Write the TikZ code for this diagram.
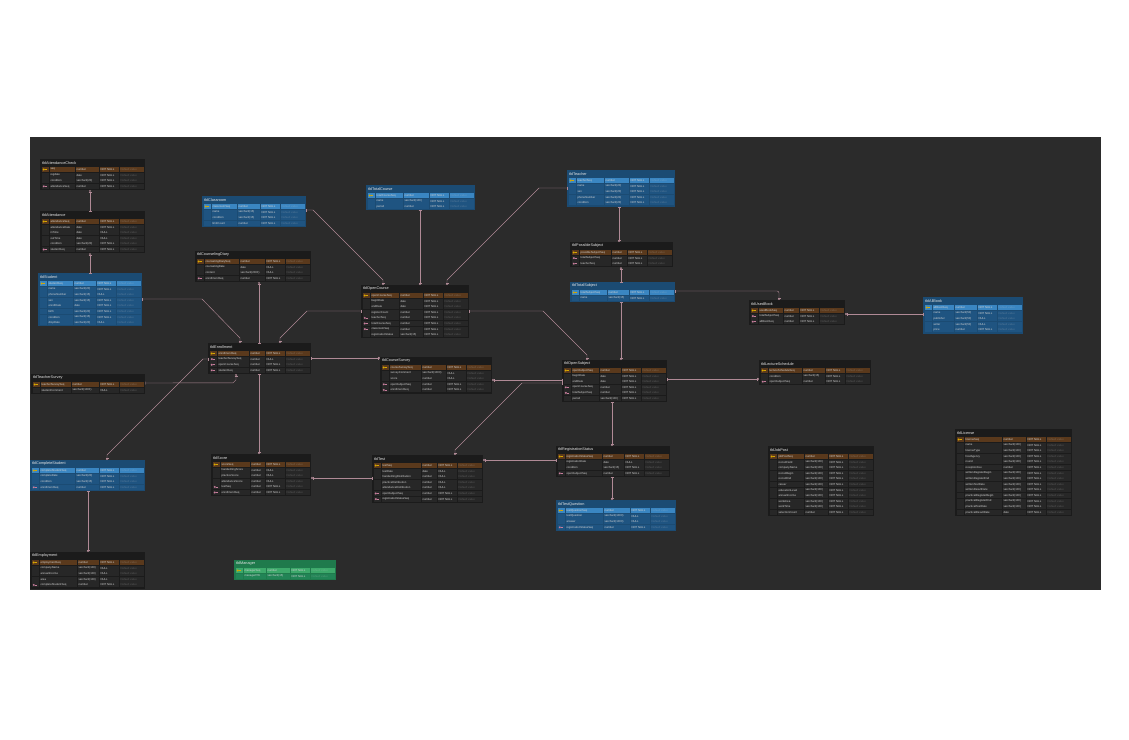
\documentclass[tikz,border=0pt]{standalone}
\usepackage{fontspec}
\setmainfont{Liberation Sans}
\usetikzlibrary{calc,arrows.meta}

\definecolor{canvasc}{HTML}{2B2B2B}
\definecolor{relc}{HTML}{B08A96}
\definecolor{titlec}{HTML}{E6E6E6}
\definecolor{cellc}{HTML}{D2D2D2}
\definecolor{bodydark}{HTML}{1B1B1B}
\definecolor{darkpk}{HTML}{5A391C}
\definecolor{darkfk}{HTML}{272727}
\definecolor{darkno}{HTML}{272727}
\definecolor{bodyblue}{HTML}{1B4B73}
\definecolor{bluepk}{HTML}{3A86C2}
\definecolor{bluefk}{HTML}{1F5481}
\definecolor{blueno}{HTML}{1F5481}
\definecolor{bodygreen}{HTML}{1F7A4C}
\definecolor{greenpk}{HTML}{3DA96B}
\definecolor{greenfk}{HTML}{228456}
\definecolor{greenno}{HTML}{228456}
\definecolor{darkkeypk}{HTML}{D9A800}
\definecolor{darkkeyfk}{HTML}{C77D9C}
\colorlet{darkkeyno}{darkno}
\colorlet{bluekeypk}{darkkeypk}
\colorlet{bluekeyfk}{darkkeyfk}
\colorlet{bluekeyno}{blueno}
\colorlet{greenkeypk}{darkkeypk}
\colorlet{greenkeyfk}{darkkeyfk}
\colorlet{greenkeyno}{greenno}

\tikzset{
  tblbody/.style={inner sep=0pt, outer sep=0pt, draw=none},
  tbltitle/.style={inner sep=0pt, text=titlec, font=\fontsize{3.8}{4.4}\selectfont},
  celltext/.style={inner sep=0pt, text=cellc, font=\fontsize{2.8}{3.2}\selectfont},
  rel/.style={draw=relc, line width=0.45pt,
    {Circle[open,length=2pt,width=2pt]Bar[width=3pt]}-{Bar[width=3pt]}},
}

% #1 node, #2 title, #3 x, #4 y, #5 name width, #6 type width, #7 palette, #8 rows
\newcommand*{\DrawTable}[8]{%
  \foreach \Dummy [count=\c] in {#8}{\xdef\RowCount{\c}}
  \pgfmathsetmacro{\TblW}{57+#5+#6}
  \pgfmathsetmacro{\TblH}{8.5+5.6*\RowCount}
  \node[tblbody, fill=body#7, minimum width=\TblW pt, minimum height=\TblH pt,
        anchor=north west] (#1) at (#3,#4) {};
  \node[tbltitle, anchor=west] (#1-title) at (#3+2,#4+4) {#2};
  \foreach \Kind/\Col/\Typ/\Nul [count=\i] in {#8}{
    \pgfmathsetmacro{\Ry}{#4+8+(\i-1)*5.6}
    \pgfmathsetmacro{\Xa}{#3+9.5}
    \pgfmathsetmacro{\Xb}{\Xa+#5}
    \pgfmathsetmacro{\Xc}{\Xb+1+#6}
    \pgfmathsetmacro{\Xd}{\Xc+20}
    \pgfmathsetmacro{\Xe}{\Xd+25}
    \fill[fill=#7\Kind] (#3+1.5,\Ry) rectangle (#3+8.5,\Ry+5);
    \fill[fill=#7\Kind] (\Xa,\Ry) rectangle (\Xb,\Ry+5);
    \fill[fill=#7\Kind] (\Xb+1,\Ry) rectangle (\Xc,\Ry+5);
    \fill[fill=#7\Kind] (\Xc+1,\Ry) rectangle (\Xd,\Ry+5);
    \fill[fill=#7\Kind] (\Xd+1,\Ry) rectangle (\Xe,\Ry+5);
    \fill[fill=#7key\Kind] (#3+3.8,\Ry+2.5) circle (1.1);
    \fill[fill=#7key\Kind] (#3+4.5,\Ry+2.1) rectangle (#3+7.3,\Ry+2.9);
    \node[celltext, anchor=west] (#1-\i-col) at (\Xa+0.8,\Ry+2.5) {\Col};
    \node[celltext, anchor=west] (#1-\i-typ) at (\Xb+1.8,\Ry+2.5) {\Typ};
    \node[celltext, anchor=west] (#1-\i-nul) at (\Xc+1.8,\Ry+2.5) {\Nul};
    \node[celltext, text opacity=0.28, anchor=west] (#1-\i-def) at (\Xd+1.8,\Ry+2.5) {Default value};
  }
}

\begin{document}
\begin{tikzpicture}[x=1pt,y=-1pt]
  \useasboundingbox (0,0) rectangle (1129,739);
  \fill[white] (0,0) rectangle (1129,739);
  \fill[canvasc] (30,137) rectangle (1101,590);

  \DrawTable{attcheck}{tblAttendanceCheck}{40}{159}{25}{23}{dark}{
    pk/seq/number/NOT NULL, no/regdate/date/NOT NULL,
    no/condition/varchar2(20)/NOT NULL, fk/attendanceSeq/number/NOT NULL}
  \DrawTable{attendance}{tblAttendance}{40}{211}{25}{23}{dark}{
    pk/attendanceSeq/number/NOT NULL, no/attendanceDate/date/NOT NULL,
    no/inTime/date/NULL, no/outTime/date/NULL,
    no/condition/varchar2(20)/NOT NULL, fk/studentSeq/number/NOT NULL}
  \DrawTable{student}{tblStudent}{38}{273}{25}{22}{blue}{
    pk/studentSeq/number/NOT NULL, no/name/varchar2(20)/NOT NULL,
    no/phoneNumber/varchar2(15)/NULL, no/ssn/varchar2(15)/NOT NULL,
    no/enrollDate/date/NOT NULL, no/birth/varchar2(20)/NOT NULL,
    no/condition/varchar2(15)/NOT NULL, no/dropDate/varchar2(20)/NULL}
  \DrawTable{classroom}{tblClassroom}{202}{196}{25}{22}{blue}{
    pk/classroomSeq/number/NOT NULL, no/name/varchar2(15)/NOT NULL,
    no/condition/varchar2(15)/NOT NULL, no/limitCount/number/NOT NULL}
  \DrawTable{counseling}{tblCounselingDiary}{195}{251}{34}{25}{dark}{
    pk/counselingDiarySeq/number/NOT NULL, no/counselingDate/date/NULL,
    no/content/varchar2(2000)/NULL, fk/enrollmentSeq/number/NOT NULL}
  \DrawTable{totalcourse}{tblTotalCourse}{366}{185}{27}{25}{blue}{
    pk/totalCourseSeq/number/NOT NULL, no/name/varchar2(100)/NOT NULL,
    no/period/number/NOT NULL}
  \DrawTable{opencourse}{tblOpenCourse}{361}{285}{28}{23}{dark}{
    pk/openCourseSeq/number/NOT NULL, no/beginDate/date/NOT NULL,
    no/endDate/date/NOT NULL, no/registerCount/number/NOT NULL,
    fk/teacherSeq/number/NOT NULL, fk/totalCourseSeq/number/NOT NULL,
    fk/classroomSeq/number/NOT NULL, no/registrationStatus/varchar2(15)/NOT NULL}
  \DrawTable{teacher}{tblTeacher}{567}{170}{27}{24}{blue}{
    pk/teacherSeq/number/NOT NULL, no/name/varchar2(20)/NOT NULL,
    no/ssn/varchar2(20)/NOT NULL, no/phoneNumber/varchar2(20)/NOT NULL,
    no/condition/varchar2(20)/NOT NULL}
  \DrawTable{possible}{tblPossibleSubject}{570}{242}{31}{15}{dark}{
    pk/possibleSubjectSeq/number/NOT NULL, fk/totalSubjectSeq/number/NOT NULL,
    fk/teacherSeq/number/NOT NULL}
  \DrawTable{totalsubject}{tblTotalSubject}{570}{282}{27}{21}{blue}{
    pk/totalSubjectSeq/number/NOT NULL, no/name/varchar2(15)/NOT NULL}
  \DrawTable{usedbook}{tblUsedBook}{749}{300}{24}{15}{dark}{
    pk/usedBookSeq/number/NOT NULL, fk/totalSubjectSeq/number/NOT NULL,
    fk/allBookSeq/number/NOT NULL}
  \DrawTable{allbook}{tblAllBook}{923}{297}{21}{22}{blue}{
    pk/allBookSeq/number/NOT NULL, no/name/varchar2(50)/NOT NULL,
    no/publisher/varchar2(50)/NULL, no/writer/varchar2(50)/NULL,
    no/price/number/NOT NULL}
  \DrawTable{lecture}{tblLectureSchedule}{759}{360}{33}{22}{dark}{
    pk/lectureScheduleSeq/number/NOT NULL, no/condition/varchar2(15)/NOT NULL,
    fk/openSubjectSeq/number/NOT NULL}
  \DrawTable{enrollment}{tblEnrollment}{208}{343}{31}{15}{dark}{
    pk/enrollmentSeq/number/NOT NULL, fk/teacherSurveySeq/number/NULL,
    fk/openCourseSeq/number/NOT NULL, fk/studentSeq/number/NOT NULL}
  \DrawTable{tsurvey}{tblTeacherSurvey}{31}{374}{30}{27}{dark}{
    pk/teacherSurveySeq/number/NOT NULL, no/studentComment/varchar2(1000)/NULL}
  \DrawTable{coursesurvey}{tblCourseSurvey}{380}{357}{31}{24}{dark}{
    pk/courseSurveySeq/number/NOT NULL, no/surveyComment/varchar2(1000)/NULL,
    no/score/number/NULL, fk/openSubjectSeq/number/NOT NULL,
    fk/enrollmentSeq/number/NOT NULL}
  \DrawTable{opensubject}{tblOpenSubject}{562}{360}{27}{21}{dark}{
    pk/openSubjectSeq/number/NOT NULL, no/beginDate/date/NOT NULL,
    no/endDate/date/NOT NULL, fk/openCourseSeq/number/NOT NULL,
    fk/totalSubjectSeq/number/NOT NULL, no/period/varchar2(100)/NOT NULL}
  \DrawTable{score}{tblScore}{211}{454}{29}{14}{dark}{
    pk/scoreSeq/number/NOT NULL, no/handwritingScore/number/NULL,
    no/practiceScore/number/NULL, no/attendanceScore/number/NULL,
    fk/testSeq/number/NOT NULL, fk/enrollmentSeq/number/NOT NULL}
  \DrawTable{complete}{tblCompleteStudent}{30}{460}{35}{23}{blue}{
    pk/completeStudentSeq/number/NOT NULL, no/completeDate/varchar2(20)/NOT NULL,
    no/condition/varchar2(15)/NOT NULL, fk/enrollmentSeq/number/NOT NULL}
  \DrawTable{test}{tblTest}{372}{455}{39}{15}{dark}{
    pk/testSeq/number/NOT NULL, no/testDate/date/NULL,
    no/handwritingDistribution/number/NULL, no/practiceDistribution/number/NULL,
    no/attendanceDistribution/number/NULL, fk/openSubjectSeq/number/NOT NULL,
    fk/registrationStatusSeq/number/NOT NULL}
  \DrawTable{regstatus}{tblRegistrationStatus}{556}{446}{36}{21}{dark}{
    pk/registrationStatusSeq/number/NOT NULL, no/registrationDate/date/NULL,
    no/condition/varchar2(15)/NOT NULL, fk/openSubjectSeq/number/NOT NULL}
  \DrawTable{question}{tblTestQuestion}{556}{500}{37}{26}{blue}{
    pk/testQuestionSeq/number/NOT NULL, no/testQuestion/varchar2(1000)/NULL,
    no/answer/varchar2(1000)/NULL, fk/registrationStatusSeq/number/NOT NULL}
  \DrawTable{jobpost}{tblJobPost}{768}{446}{26}{23}{dark}{
    pk/jobPostSeq/number/NOT NULL, no/recruitField/varchar2(100)/NOT NULL,
    no/companyName/varchar2(100)/NOT NULL, no/recruitBegin/varchar2(100)/NOT NULL,
    no/recruitEnd/varchar2(100)/NOT NULL, no/career/varchar2(100)/NOT NULL,
    no/educationLevel/varchar2(100)/NOT NULL, no/annualIncome/varchar2(100)/NOT NULL,
    no/workArea/varchar2(100)/NOT NULL, no/workTime/varchar2(100)/NOT NULL,
    no/selectionCount/number/NOT NULL}
  \DrawTable{license}{tblLicense}{955}{429}{37}{23}{dark}{
    pk/licenseSeq/number/NOT NULL, no/name/varchar2(100)/NOT NULL,
    no/licenseType/varchar2(100)/NOT NULL, no/hostAgency/varchar2(100)/NOT NULL,
    no/round/varchar2(100)/NOT NULL, no/receptionFee/number/NOT NULL,
    no/writtenRegisterBegin/varchar2(100)/NOT NULL, no/writtenRegisterEnd/varchar2(100)/NOT NULL,
    no/writtenTestDate/varchar2(100)/NOT NULL, no/writtenResultDate/varchar2(100)/NOT NULL,
    no/practicalRegisterBegin/varchar2(100)/NOT NULL, no/practicalRegisterEnd/varchar2(100)/NOT NULL,
    no/practicalTestDate/varchar2(100)/NOT NULL, no/practicalResultDate/date/NOT NULL}
  \DrawTable{employment}{tblEmployment}{30}{552}{37}{21}{dark}{
    pk/employmentSeq/number/NOT NULL, no/companyName/varchar2(100)/NULL,
    no/annualIncome/varchar2(100)/NULL, no/area/varchar2(100)/NULL,
    fk/completeStudentSeq/number/NOT NULL}
  \DrawTable{manager}{tblManager}{234}{560}{22}{23}{green}{
    pk/managerSeq/number/NOT NULL, no/managerPW/varchar2(15)/NOT NULL}

  \draw[rel] ($(attcheck.south west)+(50,0)$) -- ($(attendance.north west)+(50,0)$);
  \draw[rel] ($(attendance.south west)+(50,0)$) -- ($(student.north west)+(52,0)$);
  \draw[rel] ($(enrollment.north west)+(32,0)$) -- ++(0,-5) -- ++(-38,-39) -- ($(student.north east)+(0,26)$);
  \draw[rel] ($(counseling.south west)+(64,0)$) -- ($(enrollment.north west)+(51,0)$);
  \draw[rel] ($(enrollment.north west)+(72,0)$) -- ++(0,-5) -- ++(27,-27) -- ($(opencourse.north west)+(0,26)$);
  \draw[rel] ($(opencourse.north west)+(22,0)$) -- ++(0,-5) -- ++(-70,-70) -- ($(classroom.north east)+(0,14)$);
  \draw[rel] ($(opencourse.north west)+(59,0)$) -- ($(totalcourse.south west)+(54,0)$);
  \draw[rel] ($(opencourse.north west)+(86,0)$) -- ++(0,-5) -- ++(92,-92) -- ($(teacher.north west)+(0,18)$);
  \draw[rel] ($(possible.north west)+(49,0)$) -- ($(teacher.south west)+(52,0)$);
  \draw[rel] ($(possible.south west)+(51,0)$) -- ($(totalsubject.north west)+(51,0)$);
  \draw[rel, rounded corners=2pt] ($(usedbook.north west)+(30,0)$) -- ++(0,-9) -- ($(totalsubject.north east)+(0,9)$);
  \draw[rel] ($(usedbook.north east)+(0,14)$) -- ($(allbook.north west)+(0,17)$);
  \draw[rel] ($(opensubject.north west)+(25,0)$) -- ++(0,-5) -- ++(-44,-44) -- ($(opencourse.north east)+(0,26)$);
  \draw[rel] ($(opensubject.north west)+(59,0)$) -- ($(totalsubject.south west)+(51,0)$);
  \draw[rel] ($(lecture.north west)+(0,19)$) -- ($(opensubject.north east)+(0,19)$);
  \draw[rel] ($(coursesurvey.north west)+(0,1)$) -- ($(enrollment.north east)+(0,15)$);
  \draw[rel] ($(coursesurvey.north east)+(0,23)$) -- ($(opensubject.north west)+(0,20)$);
  \draw[rel] ($(test.north west)+(83,0)$) -- ++(0,-5) -- ++(67,-67) -- ($(opensubject.north west)+(0,23)$);
  \draw[rel] ($(complete.north west)+(77,0)$) -- ++(0,-5) -- ++(96,-96) -- ($(enrollment.north west)+(0,16)$);
  \draw[rel] ($(enrollment.south west)+(28,0)$) -- ++(0,6) -- ++(-3,3) -- ($(tsurvey.north east)+(0,9)$);
  \draw[rel] ($(score.north west)+(48,0)$) -- ($(enrollment.south west)+(51,0)$);
  \draw[rel] ($(score.north east)+(0,24)$) -- ($(test.north west)+(0,23)$);
  \draw[rel] ($(test.north east)+(0,5)$) -- ($(regstatus.north west)+(0,14)$);
  \draw[rel] ($(regstatus.north west)+(56,0)$) -- ($(opensubject.south west)+(50,0)$);
  \draw[rel] ($(question.north west)+(56,0)$) -- ($(regstatus.south west)+(56,0)$);
  \draw[rel] ($(employment.north west)+(58,0)$) -- ($(complete.south west)+(58,0)$);
\end{tikzpicture}
\end{document}
